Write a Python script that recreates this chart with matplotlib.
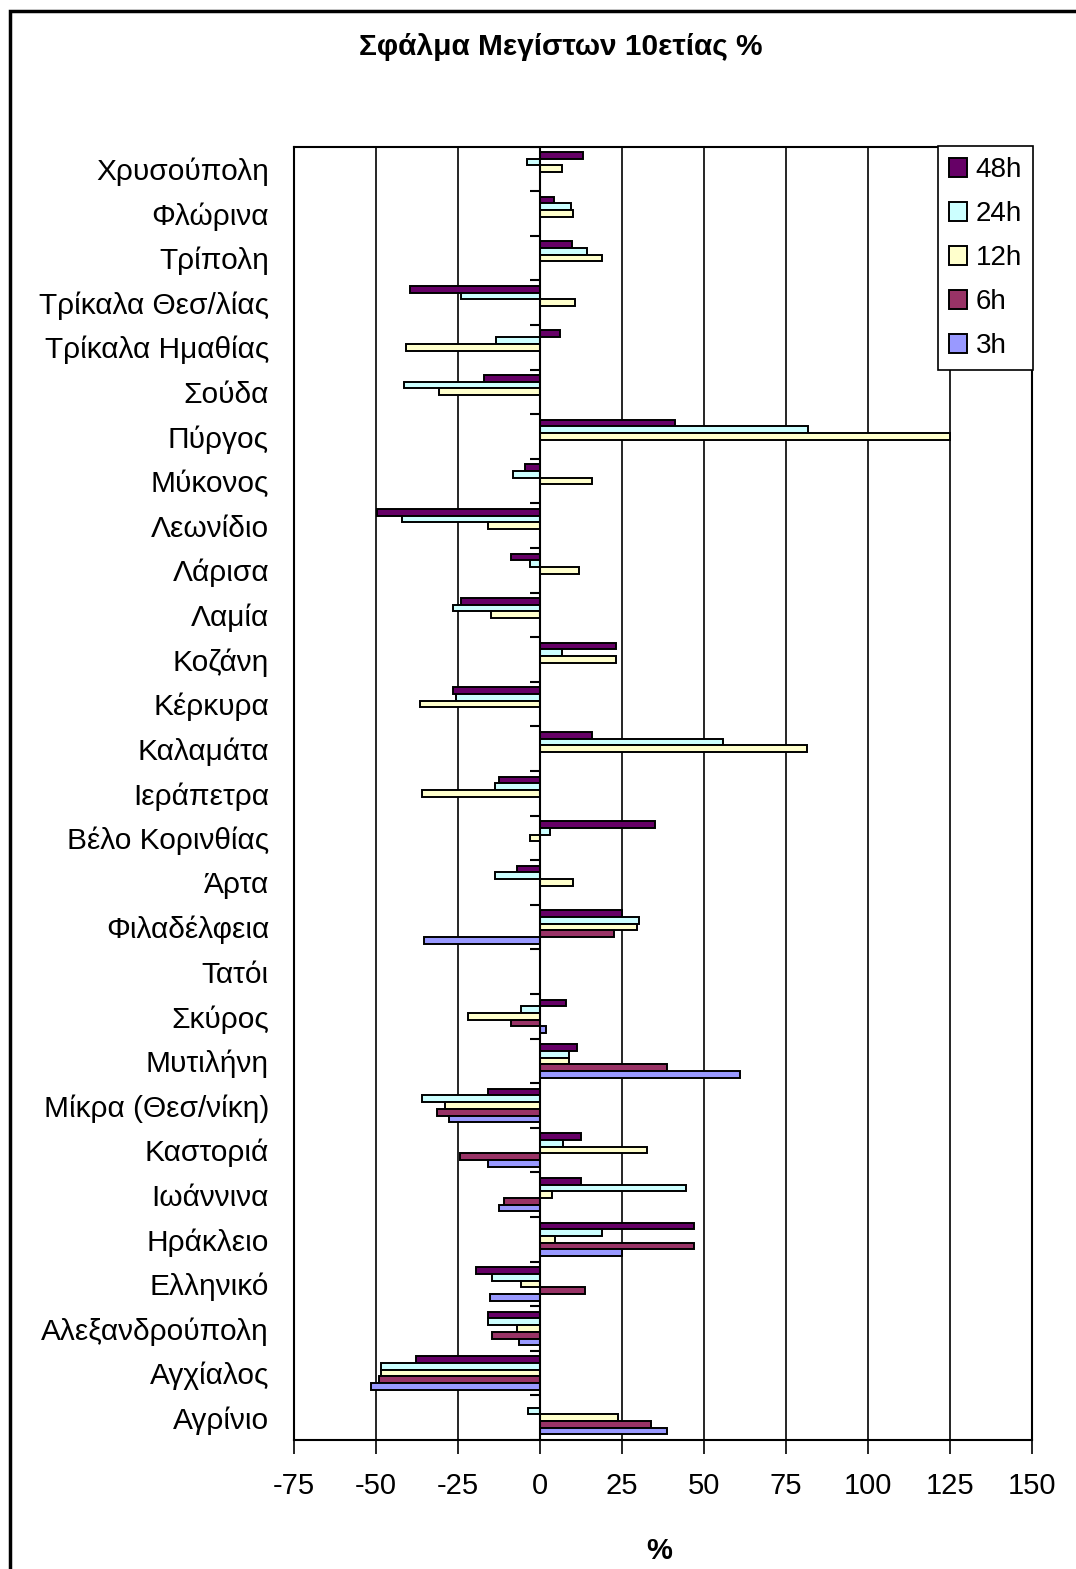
import matplotlib.pyplot as plt
import numpy as np
from matplotlib.patches import Rectangle

nan = np.nan

# categories, top to bottom as in the chart
stations = ["Χρυσούπολη", "Φλώρινα", "Τρίπολη", "Τρίκαλα Θεσ/λίας", "Τρίκαλα Ημαθίας",
            "Σούδα", "Πύργος", "Μύκονος", "Λεωνίδιο", "Λάρισα", "Λαμία", "Κοζάνη",
            "Κέρκυρα", "Καλαμάτα", "Ιεράπετρα", "Βέλο Κορινθίας", "Άρτα", "Φιλαδέλφεια",
            "Τατόι", "Σκύρος", "Μυτιλήνη", "Μίκρα (Θεσ/νίκη)", "Καστοριά", "Ιωάννινα",
            "Ηράκλειο", "Ελληνικό", "Αλεξανδρούπολη", "Αγχίαλος", "Αγρίνιο"]

h48 = [13, 4.3, 9.7, -39.6, 6.1, -17.1, 41.3, -4.6, -49.8, -8.9, -24.2, 23.2, -26.6, 16,
       -12.4, 35, -7.1, 25, nan, 7.9, 11.3, -15.9, 12.6, 12.6, 46.9, -19.5, -15.9, -37.9, nan]
h24 = [-4, 9.5, 14.3, -24.2, -13.5, -41.4, 81.6, -8.2, -42, -2.9, -26.6, 6.6, -25.5, 55.8,
       -13.6, 3.1, -13.6, 30.3, nan, -5.9, 8.9, -36.1, 7.1, 44.5, 19, -14.7, -15.9, -48.5, -3.6]
h12 = [6.6, 10.2, 19, 10.8, -40.8, -30.7, 125, 16, -15.9, 11.9, -14.8, 23.2, -36.6, 81.4,
       -36, -3, 10.2, 29.7, nan, -21.8, 8.9, -29, 32.7, 3.6, 4.7, -5.9, -7, -48.5, 23.8]
h6 = [nan] * 17 + [22.7, nan, -8.9, 38.7, -31.4, -24.3, -11.1, 46.9, 13.7, -14.7, -49.1, 33.8]
h3 = [nan] * 17 + [-35.5, nan, 1.8, 60.9, -27.8, -15.9, -12.4, 24.9, -15.3, -6.5, -51.5, 38.6]

series = [h48, h24, h12, h6, h3]
names = ["48h", "24h", "12h", "6h", "3h"]
colors = ["#660066", "#CCFFFF", "#FFFFCC", "#993366", "#9999FF"]
xticks = [-75, -50, -25, 0, 25, 50, 75, 100, 125, 150]

plt.rcParams['font.family'] = ['Liberation Sans', 'DejaVu Sans']

fig = plt.figure(figsize=(10.76, 15.69), dpi=100)
ax = fig.add_axes([294 / 1076, 1 - 1440 / 1569, (1032 - 294) / 1076, (1440 - 146.5) / 1569])

n = len(stations)
y = np.arange(n)
h = 0.15
for k, (vals, name, col) in enumerate(zip(series, names, colors)):
    off = -2.5 * h + (k + 0.5) * h
    ax.barh(y + off, vals, height=h, color=col, edgecolor='black', linewidth=1.4,
            label=name, zorder=3)

ax.set_xlim(-75, 150)
ax.set_ylim(n - 0.5, -0.5)
ax.set_xticks(xticks)
ax.set_xticklabels([str(t) for t in xticks], fontsize=21)
ax.tick_params(axis='x', length=10, width=1.2, pad=13, direction='out')
ax.set_yticks(y)
ax.set_yticklabels(stations, fontsize=21.5)
ax.tick_params(axis='y', length=0, pad=18)
ax.xaxis.grid(True, color='black', linewidth=1.2)
ax.set_axisbelow(True)
for s in ax.spines.values():
    s.set_linewidth(1.5)

# category axis at zero with small ticks between groups
ax.axvline(0, color='black', linewidth=1.5, zorder=4)
ax.hlines(np.arange(n + 1) - 0.5, -3, 0, color='black', linewidth=1.5, zorder=4)

leg = ax.legend(loc='upper right', bbox_to_anchor=(1033 / 1076, 1 - 146 / 1569),
                bbox_transform=fig.transFigure, borderaxespad=0, fontsize=20,
                fancybox=False, edgecolor='black', framealpha=1, labelspacing=0.65,
                handlelength=0.65, handleheight=0.65, handletextpad=0.3, borderpad=0.4)
leg.get_frame().set_linewidth(1.2)

fig.text(561 / 1076, 1 - 47 / 1569, "Σφάλμα Μεγίστων 10ετίας %", ha='center', va='center',
         fontsize=21.5, fontweight='bold')
fig.text(659 / 1076, 1 - 1551 / 1569, "%", ha='center', va='center',
         fontsize=21, fontweight='bold')

# outer chart border
fig.patches.append(Rectangle((10 / 1076, -0.1), 1.2, 1 - 11 / 1569 + 0.1,
                             transform=fig.transFigure, fill=False,
                             edgecolor='black', linewidth=2.5))

fig.savefig("out.png", dpi=100)
